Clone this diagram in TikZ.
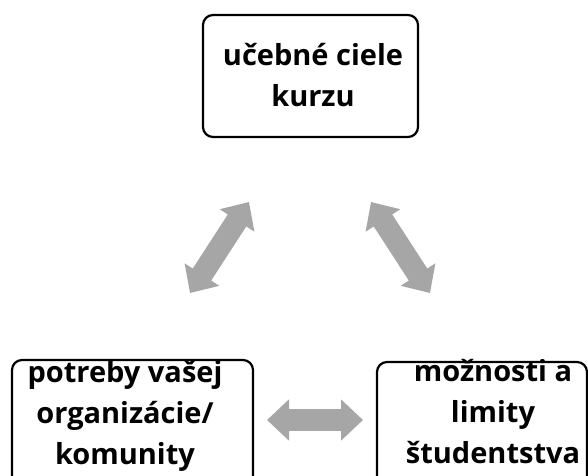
\documentclass[tikz,border=0pt]{standalone}
\usepackage{fontspec}
\setmainfont{Open Sans}
\usetikzlibrary{arrows.meta}
\definecolor{arrgray}{HTML}{A6A6A6}
\tikzset{
  boxframe/.style={draw=black, line width=2.2pt, rounded corners=10pt, fill=white, inner sep=0pt},
  lab/.style={align=center, font=\bfseries\fontsize{29}{41}\selectfont, inner sep=0pt},
  blockarrow/.style={draw=arrgray, line width=22pt, {Triangle[width=40pt,length=22pt]}-{Triangle[width=40pt,length=22pt]}},
}
\begin{document}
\begin{tikzpicture}[x=1pt,y=-1pt]
\useasboundingbox (0,0) rectangle (588,475);
\clip (0,0) rectangle (588,475);
\fill[white] (0,0) rectangle (588,475);
% boxes
\node[boxframe, minimum width=215pt, minimum height=122pt] (topbox) at (310.5,76) {};
\node[boxframe, minimum width=241pt, minimum height=150pt] (leftbox) at (132.5,435) {};
\node[boxframe, minimum width=210pt, minimum height=150pt] (rightbox) at (482,437) {};
% labels
\node[lab] (toplab) at (313,75) {učebné ciele\\kurzu};
\node[lab] (leftlab) at (125,416) {potreby vašej\\organizácie/\\komunity};
\node[lab] (rightlab) at (493,411.5) {možnosti a\\limity\\študentstva};
% arrow ends
\coordinate (l1) at (190,293);
\coordinate (l2) at (249,202);
\coordinate (r1) at (371,202);
\coordinate (r2) at (430,293);
\coordinate (h1) at (267,420);
\coordinate (h2) at (363,420);
\draw[blockarrow] (l1) -- (l2);
\draw[blockarrow] (r1) -- (r2);
\draw[blockarrow] (h1) -- (h2);
\end{tikzpicture}
\end{document}
